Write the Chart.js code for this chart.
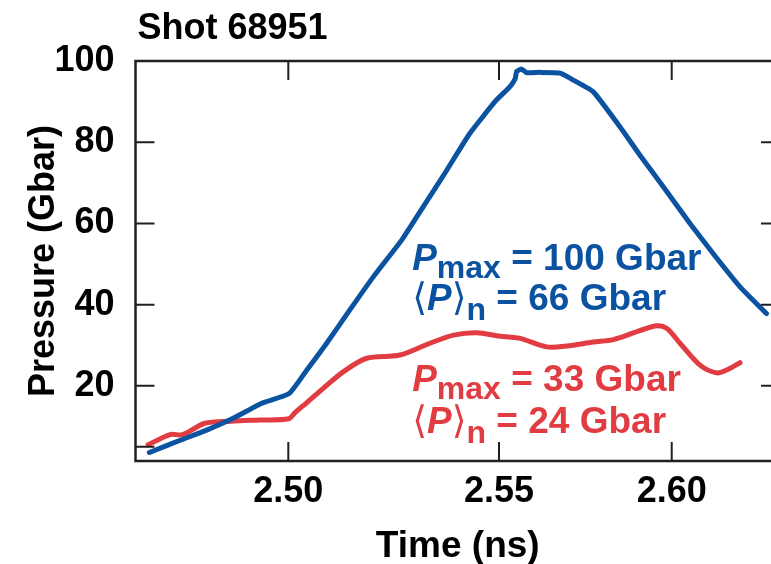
<!DOCTYPE html>
<html lang="en">
<head>
<meta charset="UTF-8">
<title>Shot 68951</title>
<script src="https://cdn.jsdelivr.net/npm/chart.js"></script>
<style>
  html, body { margin: 0; padding: 0; background: #fff; overflow: hidden; }
  .wrap { width: 790px; height: 564px; }
</style>
</head>
<body>
<div class="wrap"><canvas id="pressureChart"></canvas></div>
<script>
// values: time in ns, pressure in Gbar
const maxTime = [2.4670, 2.4743, 2.4806, 2.4869, 2.4937, 2.5002, 2.5044, 2.5091, 2.5146, 2.5202,
                 2.5269, 2.5320, 2.5376, 2.5431, 2.5494, 2.5532, 2.5547, 2.5551, 2.5566, 2.5580,
                 2.5619, 2.5677, 2.5715, 2.5773, 2.5850, 2.5908, 2.5976, 2.6053, 2.6120, 2.6198, 2.6275];
const maxPressure = [3.6, 6.6, 9.1, 12.0, 15.7, 18.1, 23.9, 30.5, 38.7, 46.9,
                     55.9, 64.1, 73.1, 82.2, 90.4, 93.7, 95.7, 97.4, 98.0, 97.1,
                     97.2, 97.0, 95.3, 92.4, 83.8, 76.8, 69.0, 60.0, 52.6, 44.4, 37.8];

const avgTime = [2.4667, 2.4719, 2.4749, 2.4802, 2.4864, 2.4933, 2.5001, 2.5016, 2.5044, 2.5083,
                 2.5131, 2.5186, 2.5265, 2.5336, 2.5392, 2.5447, 2.5503, 2.5561, 2.5638, 2.5696,
                 2.5773, 2.5831, 2.5908, 2.5957, 2.5986, 2.6024, 2.6082, 2.6130, 2.6159, 2.6198];
const avgPressure = [5.5, 8.0, 8.0, 10.8, 11.3, 11.6, 11.9, 13.4, 15.9, 19.4,
                     23.5, 26.8, 27.6, 30.5, 32.5, 33.1, 32.2, 31.7, 29.6, 29.8,
                     30.8, 31.4, 33.6, 34.8, 34.1, 30.5, 25.1, 23.2, 23.9, 25.7];

const xTicks = [2.50, 2.55, 2.60];
const yTicks = [5, 20, 40, 60, 80, 100];
const yLabelled = [20, 40, 60, 80, 100];

const BLUE = '#0b53a1';
const RED = '#e03c42';
const INK = '#231f20';
const FONT = "'Liberation Sans', Arial, Helvetica, sans-serif";
const MATH = "'Liberation Sans', 'DejaVu Sans', sans-serif";

// the time axis of the original is not evenly spaced between its ticks,
// so use a linear scale that is piecewise between given tick fractions
class WarpedLinearScale extends Chart.LinearScale {
  knots() {
    const w = this.options.warp;
    return { v: [this.min, ...w.values, this.max], f: [0, ...w.fracs, 1] };
  }
  getPixelForValue(value) {
    if (value === null || isNaN(value)) return NaN;
    const { v, f } = this.knots();
    let i = 1;
    while (i < v.length - 1 && value > v[i]) i++;
    const frac = f[i - 1] + (value - v[i - 1]) / (v[i] - v[i - 1]) * (f[i] - f[i - 1]);
    return this.left + frac * this.width;
  }
  getValueForPixel(pixel) {
    const { v, f } = this.knots();
    const frac = (pixel - this.left) / this.width;
    let i = 1;
    while (i < f.length - 1 && frac > f[i]) i++;
    return v[i - 1] + (frac - f[i - 1]) / (f[i] - f[i - 1]) * (v[i] - v[i - 1]);
  }
}
WarpedLinearScale.id = 'warpedLinear';
WarpedLinearScale.defaults = Chart.LinearScale.defaults;
Chart.register(WarpedLinearScale);

// text notes, anchored in data coordinates
const notes = [
  { x: 2.5294, y: 48.5, color: BLUE, parts: [['P', 'italic bold 37px', 0], ['max', 'bold 32px', 8], [' = 100 Gbar', 'bold 37px', 0]] },
  { x: 2.5294, y: 38.7, color: BLUE, parts: [['\u27e8', '38px', 0], ['P', 'italic bold 37px', 0], ['\u27e9', '38px', 0], ['n', 'bold 32px', 10], [' = 66 Gbar', 'bold 37px', 0]] },
  { x: 2.5294, y: 18.8, color: RED, parts: [['P', 'italic bold 37px', 0], ['max', 'bold 32px', 8], [' = 33 Gbar', 'bold 37px', 0]] },
  { x: 2.5294, y: 8.4, color: RED, parts: [['\u27e8', '38px', 0], ['P', 'italic bold 37px', 0], ['\u27e9', '38px', 0], ['n', 'bold 32px', 10], [' = 24 Gbar', 'bold 37px', 0]] }
];

const framePlugin = {
  id: 'frame',
  afterDatasetsDraw(chart) {
    const { ctx, chartArea: a, scales: { x, y } } = chart;
    ctx.save();
    ctx.strokeStyle = INK;
    ctx.lineWidth = 2.5;
    ctx.strokeRect(a.left, a.top, a.right - a.left, a.bottom - a.top);

    // inward ticks on all four sides
    const len = 19;
    ctx.lineWidth = 2;
    ctx.beginPath();
    xTicks.forEach(v => {
      const px = x.getPixelForValue(v);
      ctx.moveTo(px, a.bottom); ctx.lineTo(px, a.bottom - len);
      ctx.moveTo(px, a.top); ctx.lineTo(px, a.top + len);
    });
    yTicks.forEach(v => {
      const py = y.getPixelForValue(v);
      ctx.moveTo(a.left, py); ctx.lineTo(a.left + len, py);
      if (yLabelled.includes(v)) { ctx.moveTo(a.right, py); ctx.lineTo(a.right - len, py); }
    });
    ctx.stroke();

    // notes
    ctx.textBaseline = 'alphabetic';
    ctx.textAlign = 'left';
    notes.forEach(n => {
      let px = x.getPixelForValue(n.x);
      const py = y.getPixelForValue(n.y);
      ctx.fillStyle = n.color;
      n.parts.forEach(([text, font, dy]) => {
        ctx.font = font + ' ' + MATH;
        ctx.fillText(text, px, py + dy);
        px += ctx.measureText(text).width;
      });
    });

    // title
    ctx.fillStyle = '#000';
    ctx.font = 'bold 36px ' + FONT;
    ctx.fillText('Shot 68951', a.left + 2, 39);
    ctx.restore();
  }
};

const ctx = document.getElementById('pressureChart').getContext('2d');
new Chart(ctx, {
  type: 'line',
  data: {
    datasets: [
      {
        label: 'P max',
        data: maxTime.map((t, i) => ({ x: t, y: maxPressure[i] })),
        borderColor: BLUE,
        borderWidth: 5,
        pointRadius: 0,
        tension: 0.15,
        borderCapStyle: 'round',
        borderJoinStyle: 'round'
      },
      {
        label: '<P>n',
        data: avgTime.map((t, i) => ({ x: t, y: avgPressure[i] })),
        borderColor: RED,
        borderWidth: 5,
        pointRadius: 0,
        tension: 0.3,
        borderCapStyle: 'round',
        borderJoinStyle: 'round'
      }
    ]
  },
  options: {
    responsive: true,
    maintainAspectRatio: false,
    animation: false,
    layout: { padding: { top: 61, right: 10, left: 0, bottom: 0 } },
    plugins: {
      legend: { display: false },
      tooltip: { enabled: false }
    },
    scales: {
      x: {
        type: 'warpedLinear',
        min: 2.4637,
        max: 2.6314,
        warp: { values: [2.50, 2.55, 2.60], fracs: [0.2371, 0.5640, 0.8320] },
        afterBuildTicks: axis => { axis.ticks = xTicks.map(v => ({ value: v })); },
        afterFit: axis => { axis.height = 103; },
        grid: { display: false, drawTicks: false },
        border: { display: false },
        ticks: {
          padding: 9,
          color: '#000',
          font: { family: FONT, size: 36, weight: 'bold' },
          callback: v => v.toFixed(2),
          maxRotation: 0
        },
        title: {
          display: true,
          text: 'Time (ns)',
          color: '#000',
          font: { family: FONT, size: 37, weight: 'bold' },
          padding: { top: 0, bottom: -5 }
        }
      },
      y: {
        min: 1.5,
        max: 100,
        afterBuildTicks: axis => { axis.ticks = yTicks.map(v => ({ value: v })); },
        afterFit: axis => { axis.width = 135.5; },
        grid: { display: false, drawTicks: false },
        border: { display: false },
        ticks: {
          padding: 21,
          color: '#000',
          font: { family: FONT, size: 36, weight: 'bold' },
          callback: v => yLabelled.includes(v) ? String(v) : ''
        },
        title: {
          display: true,
          text: 'Pressure (Gbar)',
          color: '#000',
          font: { family: FONT, size: 36, weight: 'bold' },
          padding: { top: 22, bottom: 0 }
        }
      }
    }
  },
  plugins: [framePlugin]
});
</script>
</body>
</html>
